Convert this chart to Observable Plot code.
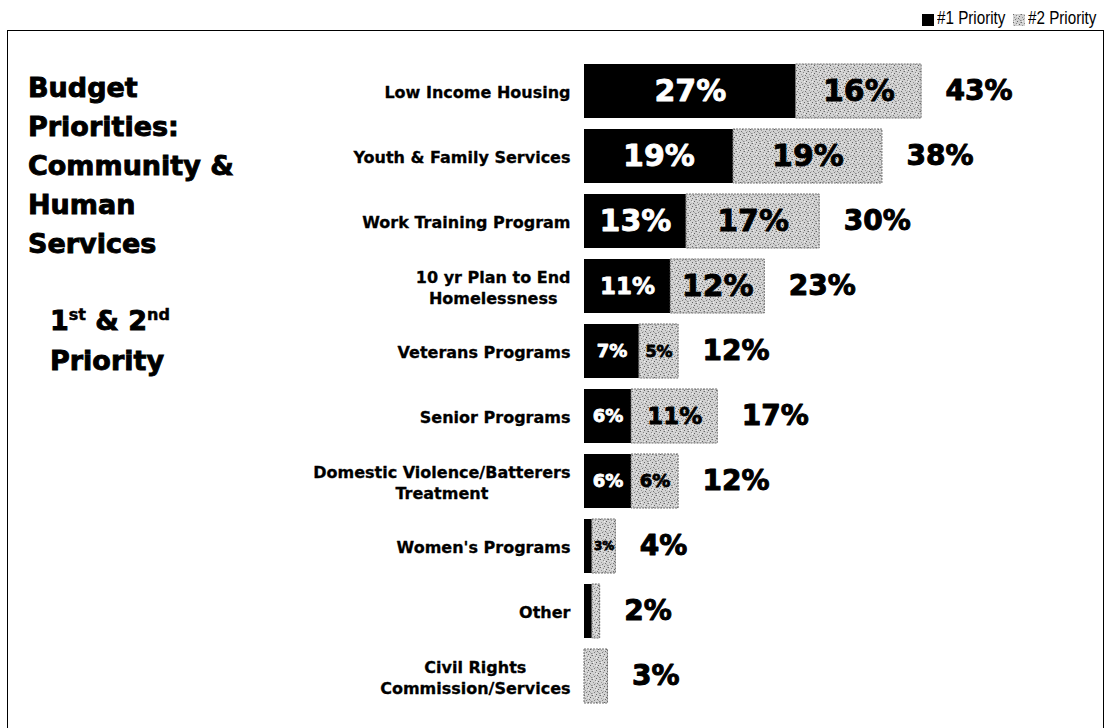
<!DOCTYPE html>
<html>
<head>
<meta charset="utf-8">
<script src="https://cdn.jsdelivr.net/npm/d3@7"></script>
<script src="https://cdn.jsdelivr.net/npm/@observablehq/plot@0.6"></script>
<style>
  html, body { margin: 0; padding: 0; background: #fff; }
  body { width: 1108px; height: 728px; overflow: hidden; position: relative; font-family: "DejaVu Sans", sans-serif; color: #000; }
  #legend { position: absolute; top: 0; left: 0; width: 1108px; height: 30px; font-family: "Liberation Sans", sans-serif; font-size: 19px; }
  #legend .sw { position: absolute; top: 14px; width: 12px; height: 12px; display: block; }
  #legend .lab { position: absolute; top: 8px; width: 90px; line-height: 20px; white-space: nowrap; transform: scaleX(0.8); transform-origin: 0 0; }
  #box { position: absolute; left: 7px; top: 30px; width: 1095px; height: 720px; border: 1px solid #000; }
  #title { position: absolute; left: 20px; top: 37px; font-weight: bold; font-size: 27px; line-height: 39px; white-space: nowrap; -webkit-text-stroke: 0.9px #000; }
  #sub { position: absolute; left: 42px; top: 272px; font-weight: bold; font-size: 27px; line-height: 36px; white-space: nowrap; -webkit-text-stroke: 0.9px #000; }
  #sub sup { font-size: 16px; vertical-align: 0; position: relative; top: -10px; -webkit-text-stroke: 0.5px #000; }
  #chart { position: absolute; left: 0; top: 0; }
</style>
</head>
<body>
<div id="legend"></div>
<div id="box">
  <div id="title"></div>
  <div id="sub">1<sup>st</sup> &amp; 2<sup>nd</sup><br>Priority</div>
  <div id="chart"></div>
</div>
<script>
// ---- data ----
const categories = [
  "Low Income Housing",
  "Youth & Family Services",
  "Work Training Program",
  "10 yr Plan to End\nHomelessness",
  "Veterans Programs",
  "Senior Programs",
  "Domestic Violence/Batterers\nTreatment",
  "Women's Programs",
  "Other",
  "Civil Rights\nCommission/Services"
];
const priority1 = [27, 19, 13, 11, 7, 6, 6, 1, 1, 0];
const priority2 = [16, 19, 17, 12, 5, 11, 6, 3, 1, 3];
const totals    = [43, 38, 30, 23, 12, 17, 12, 4, 2, 3];
const seriesNames = ["#1 Priority", "#2 Priority"];
const titleLines = ["Budget", "Priorities:", "Community &", "Human", "Services"];

// ---- table built from the arrays ----
const rows = categories.map((c, i) => ({cat: c, p1: priority1[i], p2: priority2[i], total: totals[i]}));

document.getElementById("title").innerHTML = titleLines.map(s => s.replace("&", "&amp;")).join("<br>");

// stipple pattern for the #2 Priority fill
const patternDef = (id) => `
  <pattern id="${id}" width="8" height="8" patternUnits="userSpaceOnUse">
    <rect width="8" height="8" fill="#d2d2d2"/>
    <rect x="0" y="0" width="1" height="1" fill="#6a6a6a"/>
    <rect x="3" y="1" width="1" height="1" fill="#8a8a8a"/>
    <rect x="6" y="2" width="1" height="1" fill="#5e5e5e"/>
    <rect x="1" y="3" width="1" height="1" fill="#959595"/>
    <rect x="5" y="4" width="1" height="1" fill="#707070"/>
    <rect x="2" y="5" width="1" height="1" fill="#7c7c7c"/>
    <rect x="7" y="6" width="1" height="1" fill="#8a8a8a"/>
    <rect x="4" y="7" width="1" height="1" fill="#646464"/>
    <rect x="0" y="6" width="1" height="1" fill="#a8a8a8"/>
    <rect x="6" y="5" width="1" height="1" fill="#ababab"/>
    <rect x="3" y="4" width="1" height="1" fill="#b0b0b0"/>
    <rect x="7" y="0" width="1" height="1" fill="#a4a4a4"/>
    <rect x="4" y="2" width="1" height="1" fill="#f0f0f0"/>
    <rect x="1" y="7" width="1" height="1" fill="#eeeeee"/>
  </pattern>`;

// legend (absolute layout)
const legend = document.getElementById("legend");
const legendX = [922, 1013];
legend.innerHTML =
  `<span class="sw" style="left:${legendX[0]}px;background:#000"></span>` +
  `<span class="lab" style="left:${legendX[0] + 15}px">${seriesNames[0]}</span>` +
  `<svg class="sw" style="left:${legendX[1]}px" width="12" height="12"><defs>${patternDef("stipLeg")}</defs><rect width="12" height="12" fill="url(#stipLeg)"/></svg>` +
  `<span class="lab" style="left:${legendX[1] + 15}px">${seriesNames[1]}</span>`;

const labelSize = v => v >= 12 ? 30 : v >= 8 ? 23 : v >= 6 ? 18 : v >= 4 ? 16 : 12;

const W = 1095, H = 697;
const chart = Plot.plot({
  width: W,
  height: H,
  marginLeft: 576,
  marginRight: 0,
  marginTop: 29,
  marginBottom: 21,
  style: {fontFamily: "DejaVu Sans, sans-serif", fontSize: "16px", background: "transparent", overflow: "visible"},
  x: {domain: [0, 66.2], axis: null},
  y: {type: "band", domain: categories, paddingInner: 0.164, paddingOuter: 0, axis: null},
  marks: [
    Plot.barX(rows, {filter: d => d.p1 > 0, y: "cat", x1: 0, x2: "p1", fill: "#000"}),
    Plot.barX(rows, {filter: d => d.p2 > 0, y: "cat", x1: "p1", x2: d => d.p1 + d.p2,
      fill: "url(#stip)", stroke: "#6f6f6f", strokeWidth: 1, strokeDasharray: "2,1"}),
    Plot.text(rows, {filter: d => d.p1 >= 5, y: "cat", x: d => d.p1 / 2,
      text: d => d.p1 + "%", fill: "#fff", stroke: "#fff", strokeWidth: 0.8, fontWeight: "bold",
      fontSize: d => labelSize(d.p1)}),
    Plot.text(rows, {filter: d => d.p2 >= 3 && d.p1 > 0, y: "cat", x: d => d.p1 + d.p2 / 2,
      text: d => d.p2 + "%", fill: "#000", stroke: "#000", strokeWidth: 0.8, fontWeight: "bold",
      fontSize: d => labelSize(d.p2)}),
    Plot.text(rows, {y: "cat", x: "total", text: d => d.total + "%", textAnchor: "start", dx: 24,
      fill: "#000", stroke: "#000", strokeWidth: 1, fontWeight: "bold", fontSize: 28}),
    Plot.text(rows, {y: "cat", x: 0, text: "cat", textAnchor: "end", dx: -14, lineHeight: 1.3,
      fill: "#000", stroke: "#000", strokeWidth: 0.3, fontWeight: "bold", fontSize: 16})
  ]
});

d3.select(chart).insert("defs", ":first-child").html(patternDef("stip"));
document.getElementById("chart").appendChild(chart);

// center multi-line category labels within their block (right edge kept)
d3.select(chart).selectAll("text").each(function () {
  const tspans = this.querySelectorAll("tspan");
  if (tspans.length > 1) {
    let maxW = 0;
    tspans.forEach(t => { maxW = Math.max(maxW, t.getComputedTextLength()); });
    this.setAttribute("text-anchor", "middle");
    tspans.forEach(t => t.setAttribute("x", -maxW / 2));
  }
});
</script>
</body>
</html>
